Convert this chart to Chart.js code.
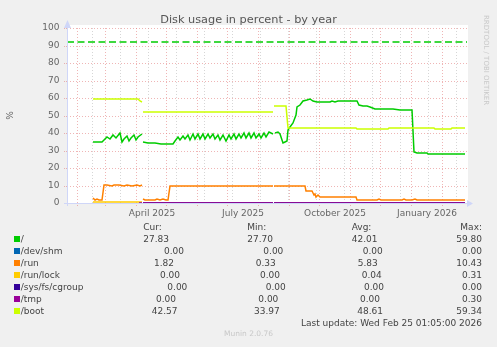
<!DOCTYPE html>
<html>
<head>
<meta charset="utf-8">
<script src="https://cdn.jsdelivr.net/npm/chart.js@4.4.0/dist/chart.umd.min.js"></script>
<style>
  html, body { margin: 0; padding: 0; background: #f0f0f0; }
  #wrap { position: relative; width: 497px; height: 347px; overflow: hidden; font-family: "DejaVu Sans", sans-serif; }
  #chart { position: absolute; left: 0; top: 0; }
  .t { position: absolute; white-space: nowrap; font-size: 9px; line-height: 12px; color: #444; }
  .sw { position: absolute; width: 6px; height: 6px; }
  #title { position: absolute; left: 0; width: 497px; top: 13px; text-align: center; font-size: 11.3px; color: #555; }
  #side { position: absolute; left: 482px; top: 15px; writing-mode: vertical-rl; font-size: 7px; color: #c8c8c8; white-space: nowrap; }
  #foot { position: absolute; left: 0; width: 497px; top: 329px; text-align: center; font-size: 7.5px; color: #c8c8c8; }
</style>
</head>
<body>
<div id="wrap">
  <canvas id="chart" width="497" height="347"></canvas>
  <div id="title">Disk usage in percent - by year</div>
  <div id="side">RRDTOOL / TOBI OETIKER</div>
  <div id="legend"></div>
  <div id="foot">Munin 2.0.76</div>
</div>
<script>
// ---------------- data ----------------
// x = days since 22 Jan 2025, y = percent used; null breaks the line (no data)
const seriesNames = ['/', '/dev/shm', '/run', '/run/lock', '/sys/fs/cgroup', '/tmp', '/boot'];
const seriesColors = ['#00cc00', '#0066b3', '#ff8000', '#ffcc00', '#330099', '#990099', '#ccff00'];

const rootPct = [
  [26,34.7],[35,34.7],[37,36.2],[40,37.5],[43,36.4],[46,38.6],[49,37.2],[53,39.8],[54.5,34.8],
  [57,36.5],[60,38.4],[62,35.5],[64,37.0],[66.5,38.9],[69,36.2],[71,37.8],[74.7,39.4],
  [75.5,null],
  [76.3,34.7],[81,34.4],[88,34.1],[94,33.8],[96,33.5],[106,33.5],[108,35.6],[111,37.9],[113,36.2],
  [116,38.4],[118,36.5],[121,38.8],[123,36.2],[126,39.2],[128,36.6],[131,39.4],[133,36.8],[136,39.6],
  [138,36.4],[141,39.2],[143,37.0],[146,39.6],[148,36.4],[151,39.0],[153,36.0],[156,38.6],[159,35.6],
  [162,38.8],[164,36.6],[167,39.5],[169,36.8],[172,39.6],[174,37.0],[177,39.8],[179,37.2],[182,39.8],
  [184,37.0],[187,40.0],[189,37.4],[192,39.6],[194,37.2],[197,40.2],[199,37.6],[202,40.4],[205.7,39.6],
  [206.3,null],
  [208,39.8],[211,40.8],[213,39.5],[215.5,34.1],[218,34.8],[220,35.3],[221,41.7],[223,43.6],[226,45.5],
  [229,50.3],[230,55.0],[233,56.0],[236,58.3],[240,58.6],[243,59.4],[246,58.3],[250,57.7],[253,57.9],
  [263,57.9],[265,58.4],[268,57.7],[271,58.4],[275,58.3],[288,58.3],[290,58.4],[292,56.0],[296,55.4],
  [300,55.4],[303,54.7],[308,53.9],[313,53.6],[320,53.9],[326,53.6],[333,53.1],[340,53.4],[345,53.1],
  [347,29.3],[350,28.8],[360,28.8],[361,27.8],[398,27.8]
];
const devShmPct = [[76.3,0],[205.7,0],[206.3,null],[207,0],[398,0]];
const runPct = [
  [26,2.7],[28,1.8],[30,2.3],[32,1.6],[34,1.9],[35,1.7],[36.5,10.2],[40,10.3],[45,10.0],[47,10.4],
  [52,10.2],[57,10.0],[60,10.3],[65,10.0],[70,10.2],[73,9.9],[74.7,10.3],
  [75.5,null],
  [76.3,2.2],[78,1.7],[88,1.7],[90,2.2],[93,1.7],[96,2.1],[99,1.6],[101,1.5],[102.5,9.9],[140,10.0],
  [160,9.9],[205.7,9.9],
  [206.3,null],
  [207,9.9],[238,9.9],[239,7.0],[244.5,7.0],[246,5.6],[247,4.4],[248,5.1],[249,3.6],[251,4.3],[253,3.2],
  [270,3.2],[272,3.5],[274,3.2],[289,3.2],[290,1.7],[310,1.7],[312,2.1],[314,1.7],[335,1.7],[337,2.1],
  [339,1.7],[345,1.7],[348,2.3],[350,1.7],[398,1.8]
];
const runLockPct = [[26,0.31],[74.7,0.31],[75.5,null],[76.3,0],[205.7,0],[206.3,null],[207,0],[398,0]];
const cgroupPct = [[76.3,0],[205.7,0],[206.3,null],[207,0],[398,0]];
const tmpPct = [[72,0],[74.7,0],[75.5,null],[76.3,0],[205.7,0],[206.3,null],[207,0],[398,0]];
const bootPct = [
  [26,59.3],[71,59.3],[73,58.3],[74.7,57.5],
  [75.5,null],
  [76.3,51.8],[205.7,51.8],
  [206.3,null],
  [207,55.4],[219,55.4],[221,42.7],[289,42.7],[290,42.4],[321,42.4],[322,42.7],[367,42.7],[368,42.4],
  [384,42.4],[385,42.7],[398,42.7]
];
const warnLevel = 92;

const curValues = [27.83, 0, 1.82, 0, 0, 0, 42.57];
const minValues = [27.70, 0, 0.33, 0, 0, 0, 33.97];
const avgValues = [42.01, 0, 5.83, 0.04, 0, 0, 48.61];
const maxValues = [59.80, 0, 10.43, 0.31, 0, 0.30, 59.34];

const xStart = new Date(2025, 0, 22);
const xDays = 400;
const labelMonths = ['April 2025', 'July 2025', 'October 2025', 'January 2026'];
const yMax = 100;

// ---------------- x ticks: month grid, 4-week minor grid, labels mid-month ----------------
const dayOf = (y, m, d) => Math.round((new Date(y, m, d) - xStart) / 86400000);
const tickKind = {};
for (let i = 1; i <= 13; i++) tickKind[dayOf(2025, i, 1)] = 'major';
for (let d = 25; d < xDays; d += 28) if (!tickKind[d]) tickKind[d] = 'minor';
const labelAt = {};
[[2025,3],[2025,6],[2025,9],[2026,0]].forEach((ym, i) => {
  const d = dayOf(ym[0], ym[1], 1) + 15.5;
  labelAt[d] = labelMonths[i];
  tickKind[d] = 'label';
});
const xTickValues = Object.keys(tickKind).map(Number).filter(v => v >= 0 && v <= xDays).sort((a, b) => a - b);

const red = 'rgba(225,120,120,0.55)';
const gray = 'rgba(165,165,165,0.45)';

const toXY = arr => arr.map(p => ({ x: p[0], y: p[1] }));
const allSeries = [rootPct, devShmPct, runPct, runLockPct, cgroupPct, tmpPct, bootPct];

const datasets = allSeries.map((s, i) => ({
  label: seriesNames[i],
  data: toXY(s),
  borderColor: seriesColors[i],
  borderWidth: 1.5,
  pointRadius: 0,
  tension: 0,
  spanGaps: false,
  order: allSeries.length - i
}));
datasets.push({
  label: 'warning',
  data: [{ x: 0, y: warnLevel }, { x: xDays, y: warnLevel }],
  borderColor: '#00cc00',
  borderWidth: 1.5,
  borderDash: [7, 3.5],
  pointRadius: 0,
  order: 20
});

// plot background + lavender axes with arrows (rrdtool look)
const rrdFrame = {
  id: 'rrdFrame',
  beforeDraw(chart) {
    const { ctx, chartArea: a } = chart;
    ctx.save();
    ctx.fillStyle = '#ffffff';
    ctx.fillRect(a.left, a.top - 3, a.right - a.left + 1, a.bottom - a.top + 3);
    ctx.restore();
  },
  afterDatasetsDraw(chart) {
    const { ctx, chartArea: a } = chart;
    ctx.save();
    ctx.strokeStyle = '#cfd6f8';
    ctx.fillStyle = '#cfd6f8';
    ctx.lineWidth = 1;
    ctx.beginPath();
    ctx.moveTo(a.left + 0.5, a.bottom + 3); ctx.lineTo(a.left + 0.5, a.top - 5);
    ctx.moveTo(a.left - 3, a.bottom + 0.5); ctx.lineTo(a.right + 4, a.bottom + 0.5);
    ctx.stroke();
    ctx.beginPath();
    ctx.moveTo(a.left + 0.5, a.top - 8); ctx.lineTo(a.left - 3, a.top); ctx.lineTo(a.left + 4, a.top);
    ctx.closePath(); ctx.fill();
    ctx.beginPath();
    ctx.moveTo(a.right + 6, a.bottom + 0.5); ctx.lineTo(a.right, a.bottom - 3); ctx.lineTo(a.right, a.bottom + 4);
    ctx.closePath(); ctx.fill();
    ctx.restore();
  }
};

new Chart(document.getElementById('chart'), {
  type: 'line',
  data: { datasets: datasets },
  options: {
    responsive: false,
    animation: false,
    events: [],
    layout: { padding: { top: 28, right: 30, bottom: 0, left: 0 } },
    plugins: { legend: { display: false }, tooltip: { enabled: false }, title: { display: false } },
    scales: {
      x: {
        type: 'linear',
        min: 0,
        max: xDays,
        alignToPixels: true,
        afterBuildTicks: scale => { scale.ticks = xTickValues.map(v => ({ value: v })); },
        afterFit: scale => { scale.height = 144; },
        border: { display: false, dash: [1, 2] },
        grid: {
          color: c => tickKind[c.tick.value] === 'major' ? red : tickKind[c.tick.value] === 'minor' ? gray : 'rgba(0,0,0,0)',
          tickColor: c => tickKind[c.tick.value] === 'major' ? red : 'rgba(0,0,0,0)',
          tickLength: 4,
          tickBorderDash: [1, 1]
        },
        ticks: {
          autoSkip: false,
          maxRotation: 0,
          padding: 1,
          color: '#666',
          font: { family: 'DejaVu Sans', size: 9 },
          callback: v => labelAt[v] || ''
        }
      },
      y: {
        min: 0,
        max: yMax,
        alignToPixels: true,
        afterFit: scale => { scale.width = 67; },
        border: { display: false, dash: [1, 2] },
        grid: {
          color: c => c.tick.value % 10 === 0 ? red : gray,
          tickColor: c => c.tick.value % 10 === 0 ? red : 'rgba(0,0,0,0)',
          tickLength: 3,
          tickBorderDash: [1, 1]
        },
        ticks: {
          stepSize: 5,
          padding: 4.5,
          color: '#666',
          font: { family: 'DejaVu Sans', size: 9 },
          callback: v => v % 10 === 0 ? v : ''
        },
        title: { display: true, text: '%', color: '#666', font: { family: 'DejaVu Sans', size: 9 }, padding: { top: 5, bottom: 0 } }
      }
    }
  },
  plugins: [rrdFrame]
});

// ---------------- legend (rrdtool GPRINT block) ----------------
const rowTop = [233, 245, 257, 269, 281, 293, 305];
const curLeft = [143.3, 164, 154, 160, 167.3, 156, 151.7];
const minLeft = [247.3, 263.3, 255.7, 260, 265.7, 258.3, 254];
const avgLeft = [351.7, 362.7, 357.7, 361.7, 364, 360, 357.3];
const maxRight = 482;

const leg = document.getElementById('legend');
function put(text, left, top, right) {
  const d = document.createElement('div');
  d.className = 't';
  d.textContent = text;
  d.style.top = top + 'px';
  if (right !== undefined) d.style.right = (497 - right) + 'px';
  else d.style.left = left + 'px';
  leg.appendChild(d);
}
put('Cur:', 143.3, 221);
put('Min:', 247.3, 221);
put('Avg:', 351.7, 221);
put('Max:', 0, 221, maxRight);
seriesNames.forEach((name, i) => {
  const sw = document.createElement('div');
  sw.className = 'sw';
  sw.style.left = '14px';
  sw.style.top = (rowTop[i] + 3) + 'px';
  sw.style.background = seriesColors[i];
  leg.appendChild(sw);
  put(name, 20.7, rowTop[i]);
  put(curValues[i].toFixed(2), curLeft[i], rowTop[i]);
  put(minValues[i].toFixed(2), minLeft[i], rowTop[i]);
  put(avgValues[i].toFixed(2), avgLeft[i], rowTop[i]);
  put(maxValues[i].toFixed(2), 0, rowTop[i], maxRight);
});
put('Last update: Wed Feb 25 01:05:00 2026', 0, 316.7, maxRight);
</script>
</body>
</html>
